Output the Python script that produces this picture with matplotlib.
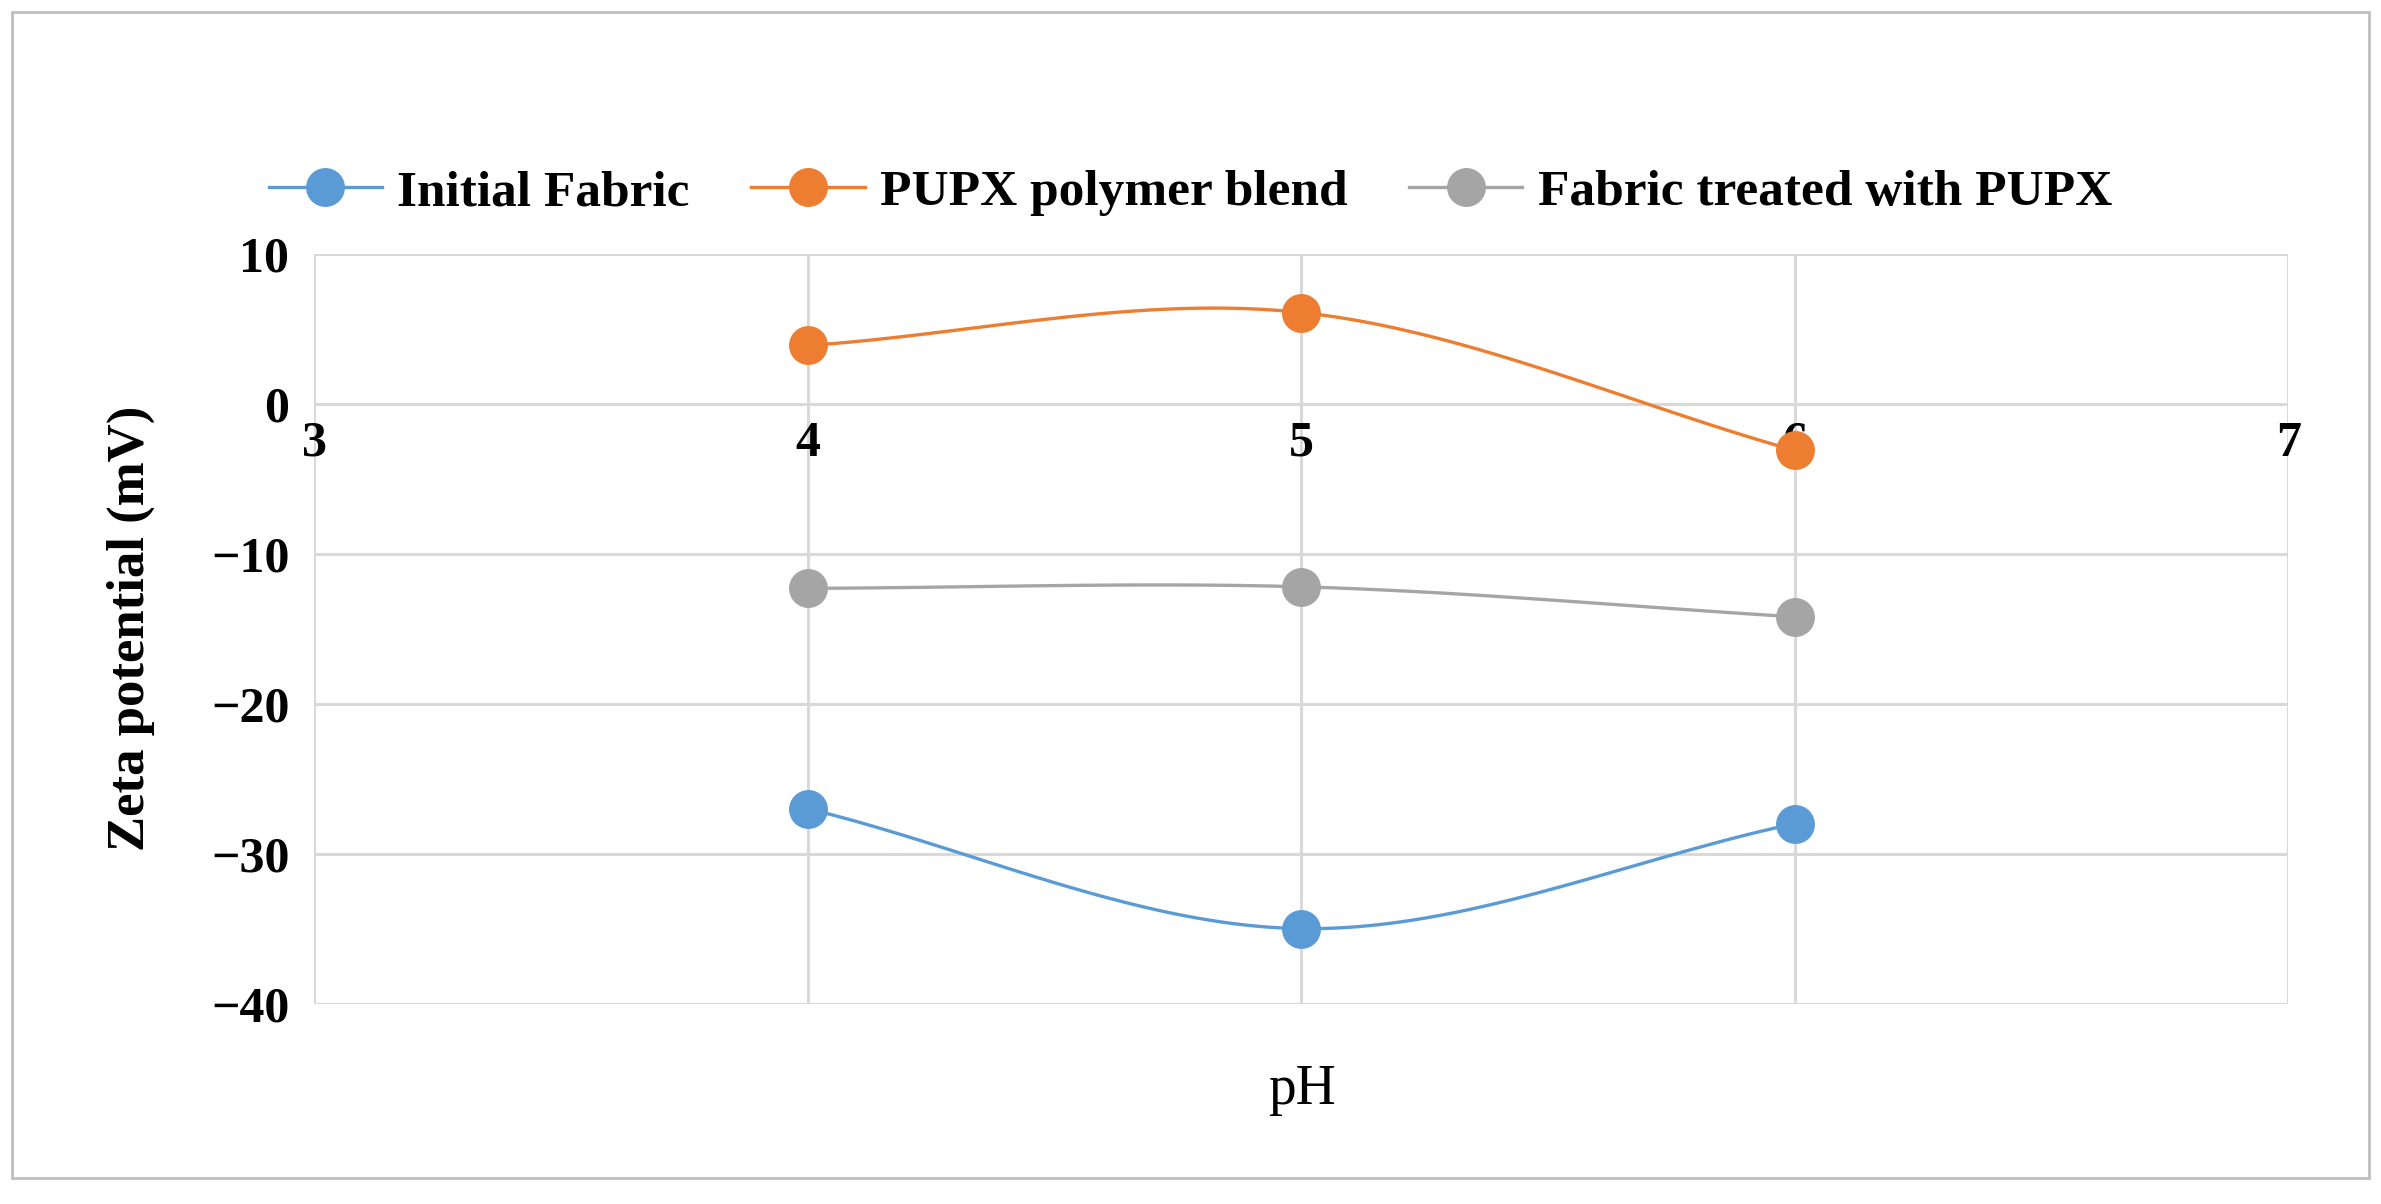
import matplotlib.pyplot as plt
import numpy as np

ph = [4, 5, 6]
initial_fabric = [-27.0, -35.0, -28.0]
pupx_blend = [3.9, 6.1, -3.1]
treated_fabric = [-12.3, -12.2, -14.2]

series = [
    ('Initial Fabric', initial_fabric, '#5B9BD5'),
    ('PUPX polymer blend', pupx_blend, '#ED7D31'),
    ('Fabric treated with PUPX', treated_fabric, '#A5A5A5'),
]


def smooth(x, y, n=60):
    # catmull-rom curve through the points, close to excel's smoothed line
    x = np.asarray(x, float)
    y = np.asarray(y, float)
    px = np.concatenate([[2 * x[0] - x[1]], x, [2 * x[-1] - x[-2]]])
    py = np.concatenate([[2 * y[0] - y[1]], y, [2 * y[-1] - y[-2]]])
    xs, ys = [], []
    t = np.linspace(0, 1, n)
    for i in range(1, len(px) - 2):
        for p, out in ((px, xs), (py, ys)):
            p0, p1, p2, p3 = p[i - 1], p[i], p[i + 1], p[i + 2]
            out.extend(0.5 * (2 * p1 + (-p0 + p2) * t
                              + (2 * p0 - 5 * p1 + 4 * p2 - p3) * t ** 2
                              + (-p0 + 3 * p1 - 3 * p2 + p3) * t ** 3))
    return xs, ys


plt.rcParams['font.family'] = ['Liberation Serif', 'DejaVu Serif']
plt.rcParams['font.weight'] = 'bold'

fig = plt.figure(figsize=(23.81, 12.04), dpi=100)
ax = fig.add_axes([0.132, 0.1665, 0.829, 0.6225])

for name, vals, col in series:
    sx, sy = smooth(ph, vals)
    ax.plot(sx, sy, color=col, lw=2.4, zorder=3)
    ax.plot(ph, vals, 'o', color=col, ms=27, zorder=4)
    ax.plot([], [], '-o', color=col, lw=2.4, ms=27, label=name)

ax.set_xlim(3, 7)
ax.set_ylim(-40, 10)
ax.set_yticks(range(-40, 11, 10))
ax.set_yticklabels(['\u221240', '\u221230', '\u221220', '\u221210', '0', '10'])
ax.set_xticks(range(3, 8))
ax.grid(True, color='#D9D9D9', lw=2.2)
ax.set_axisbelow(True)
for s in ax.spines.values():
    s.set_visible(False)
ax.spines['bottom'].set_position(('data', 0))
ax.tick_params(length=0, labelsize=36)
ax.tick_params(axis='x', pad=12)
ax.tick_params(axis='y', pad=18)
fig.text(0.5468, 0.095, 'pH', fontsize=40, fontweight='normal', ha='center', va='center')
fig.text(0.055, 0.478, 'Zeta potential (mV)', fontsize=38, rotation=90,
         ha='center', va='center')

fig.legend(loc='center', bbox_to_anchor=(0.5, 0.84), ncol=3, frameon=False,
           fontsize=37, handlelength=2.2, columnspacing=1.2, handletextpad=0.3)

# outer chart border
fig.add_artist(plt.Rectangle((0.005, 0.022), 0.99, 0.968, transform=fig.transFigure,
                             fill=False, ec='#BFBFBF', lw=2))

fig.savefig('out.png', dpi=100, facecolor='white')
